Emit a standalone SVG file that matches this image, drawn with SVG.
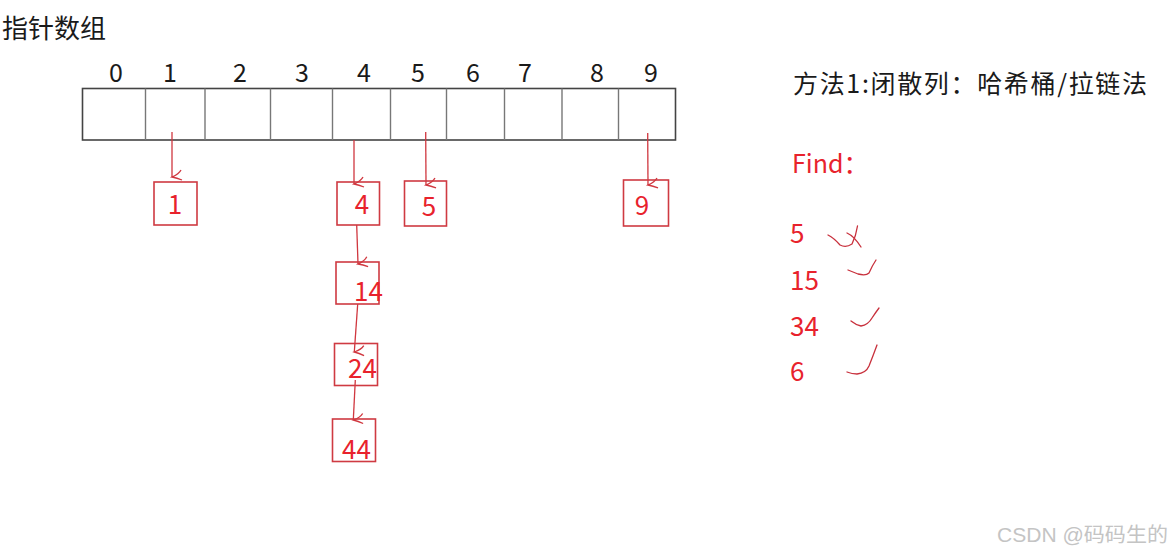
<svg xmlns="http://www.w3.org/2000/svg" width="1174" height="555" viewBox="0 0 1174 555">
<defs>
<marker id="ah" markerWidth="16" markerHeight="16" refX="8" refY="12" orient="auto-start-reverse" markerUnits="userSpaceOnUse" viewBox="0 0 16 16">
<path d="M1 3 Q5 5 8 12 Q9 7 11 2" fill="none" stroke="#d0373f" stroke-width="1.3"/>
</marker>
<style>
.blk{font-family:"Noto Sans CJK SC","Microsoft YaHei",sans-serif;fill:#1a1a1a}
.idx{font-family:"Noto Sans CJK SC",sans-serif;font-size:25px;fill:#1a1a1a;text-anchor:middle}
.red{font-family:"Noto Sans CJK SC",sans-serif;fill:#e8222c}
.box{fill:none;stroke:#cf3a42;stroke-width:1.6}
.cell{stroke:#777;stroke-width:1.4}
.con{fill:none;stroke:#d0373f;stroke-width:1.3;marker-end:url(#ah)}
.chk{fill:none;stroke:#c8303c;stroke-width:1.3;stroke-linecap:round;stroke-linejoin:round}
</style>
</defs>
<rect width="1174" height="555" fill="#fff"/>
<text class="blk" x="2" y="38" font-size="26">指针数组</text>
<g id="array">
<rect x="82.5" y="88.5" width="593" height="51.5" fill="#fff" stroke="#444" stroke-width="1.6"/>
<line class="cell" x1="145.5" y1="88.5" x2="145.5" y2="140"/>
<line class="cell" x1="205" y1="88.5" x2="205" y2="140"/>
<line class="cell" x1="270.5" y1="88.5" x2="270.5" y2="140"/>
<line class="cell" x1="332.5" y1="88.5" x2="332.5" y2="140"/>
<line class="cell" x1="390.5" y1="88.5" x2="390.5" y2="140"/>
<line class="cell" x1="446.5" y1="88.5" x2="446.5" y2="140"/>
<line class="cell" x1="504.5" y1="88.5" x2="504.5" y2="140"/>
<line class="cell" x1="562" y1="88.5" x2="562" y2="140"/>
<line class="cell" x1="618.5" y1="88.5" x2="618.5" y2="140"/>
<text class="idx" x="116" y="82">0</text>
<text class="idx" x="170" y="82">1</text>
<text class="idx" x="240" y="82">2</text>
<text class="idx" x="302" y="82">3</text>
<text class="idx" x="364" y="82">4</text>
<text class="idx" x="418" y="82">5</text>
<text class="idx" x="473" y="82">6</text>
<text class="idx" x="525" y="82">7</text>
<text class="idx" x="597" y="82">8</text>
<text class="idx" x="651" y="82">9</text>
</g>
<g id="connectors">
<path class="con" d="M172 132 L172 177"/>
<path class="con" d="M354 140 L354 184"/>
<path class="con" d="M425.7 132 L426 185"/>
<path class="con" d="M647.7 133 L648 185"/>
<path class="con" d="M356.7 225 L358 264"/>
<path class="con" d="M357.7 304 L354.3 352"/>
<path class="con" d="M355.3 380 L353.3 420"/>
</g>
<g id="n1"><rect class="box" x="154" y="182" width="43" height="43"/><text class="red" x="175" y="214" font-size="26" text-anchor="middle">1</text></g>
<g id="n4"><rect class="box" x="337" y="182" width="42.5" height="43"/><text class="red" x="362" y="214" font-size="26" text-anchor="middle">4</text></g>
<g id="n5"><rect class="box" x="404.5" y="181" width="42" height="45"/><text class="red" x="429" y="216" font-size="26" text-anchor="middle">5</text></g>
<g id="n9"><rect class="box" x="623.5" y="180" width="45" height="46"/><text class="red" x="642" y="215" font-size="26" text-anchor="middle">9</text></g>
<g id="n14"><rect class="box" x="336" y="262" width="43" height="42"/><text class="red" x="354" y="301" font-size="26">14</text></g>
<g id="n24"><rect class="box" x="334.5" y="343.5" width="43" height="42"/><text class="red" x="348" y="378" font-size="26">24</text></g>
<g id="n44"><rect class="box" x="332.5" y="419" width="43" height="42.5"/><text class="red" x="342" y="459" font-size="26">44</text></g>
<text class="blk" x="793" y="93" font-size="25" textLength="354" lengthAdjust="spacing">方法1:闭散列：哈希桶/拉链法</text>
<text class="red" x="792" y="173" font-size="25">Find：</text>
<text class="red" x="790" y="243" font-size="26">5</text>
<text class="red" x="790" y="290" font-size="26">15</text>
<text class="red" x="790" y="336" font-size="26">34</text>
<text class="red" x="790" y="381" font-size="26">6</text>
<g id="marks">
<path class="chk" d="M828 235 Q834 238 840 245 Q846 248 852 244 Q856 236 857.5 226"/>
<path class="chk" d="M847 233 Q854 236 861 247"/>
<path class="chk" d="M848 270 Q853 272 858 274 Q866 276 869 273 Q872 266 876 260"/>
<path class="chk" d="M851 321 Q856 325 861 326 Q868 325 872 318 Q876 312 879 308"/>
<path class="chk" d="M847 372 Q852 374 857 374 Q866 373 869 366 Q873 356 877 345"/>
</g>
<text x="997" y="542" font-family="Liberation Sans,'Noto Sans CJK SC',sans-serif" font-size="20" fill="#c4c4c4" textLength="171" lengthAdjust="spacingAndGlyphs">CSDN @码码生的</text>
</svg>
